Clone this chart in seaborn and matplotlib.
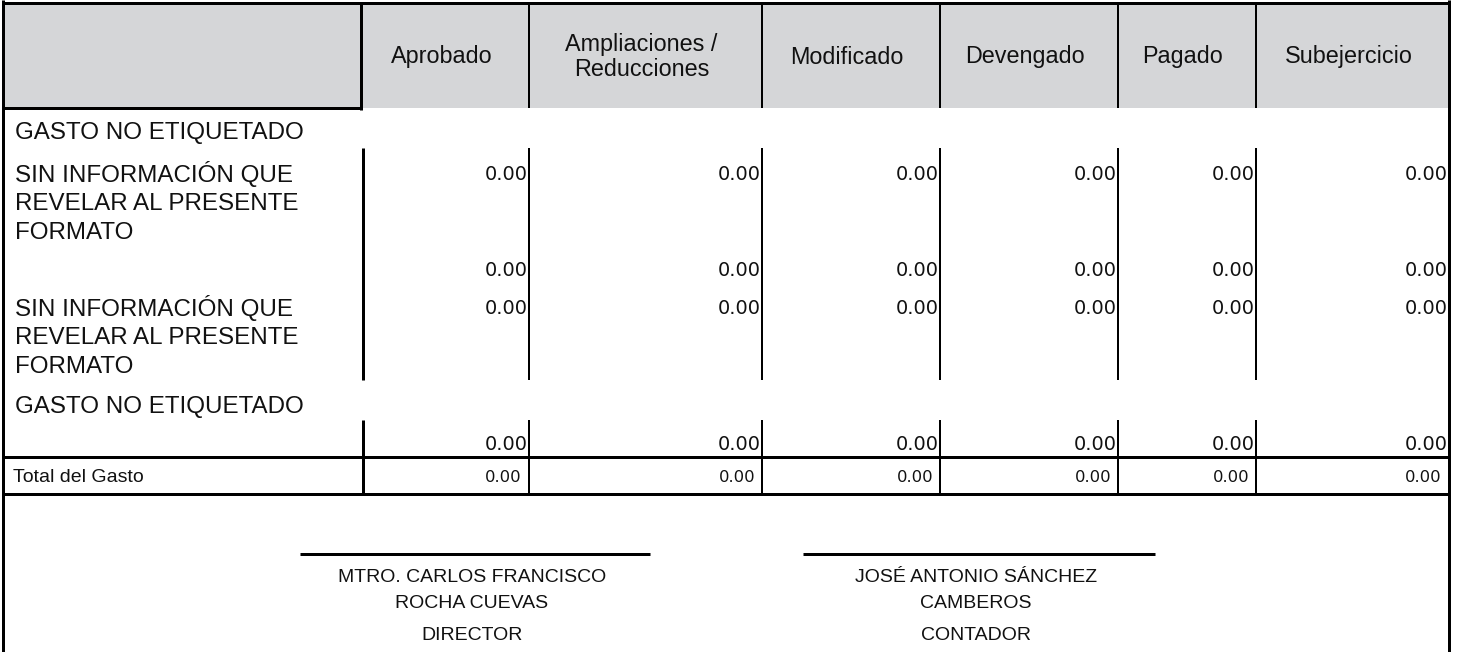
import matplotlib
matplotlib.use("Agg")
import matplotlib.pyplot as plt
import seaborn as sns

# ---------------- data ----------------
columns = ["Aprobado", "Ampliaciones /\nReducciones", "Modificado",
           "Devengado", "Pagado", "Subejercicio"]
heading_1 = "GASTO NO ETIQUETADO"
concept_1 = "SIN INFORMACIÓN QUE\nREVELAR AL PRESENTE\nFORMATO"
values_1 = [0.00, 0.00, 0.00, 0.00, 0.00, 0.00]
subtotal_1 = [0.00, 0.00, 0.00, 0.00, 0.00, 0.00]
concept_2 = "SIN INFORMACIÓN QUE\nREVELAR AL PRESENTE\nFORMATO"
values_2 = [0.00, 0.00, 0.00, 0.00, 0.00, 0.00]
heading_2 = "GASTO NO ETIQUETADO"
subtotal_2 = [0.00, 0.00, 0.00, 0.00, 0.00, 0.00]
total_label = "Total del Gasto"
total_values = [0.00, 0.00, 0.00, 0.00, 0.00, 0.00]
signers = ["MTRO. CARLOS FRANCISCO\nROCHA CUEVAS", "JOSÉ ANTONIO SÁNCHEZ\nCAMBEROS"]
roles = ["DIRECTOR", "CONTADOR"]

# ---------------- layout ----------------
sns.set_theme(style="white")
plt.rcParams["font.family"] = ["Liberation Sans", "DejaVu Sans"]

W, H = 1461, 652
fig = plt.figure(figsize=(W / 100, H / 100), dpi=100)
ax = fig.add_axes([0, 0, 1, 1])
ax.set_xlim(0, W)
ax.set_ylim(H, 0)
ax.axis("off")

PX = 0.72  # points per pixel at 100 dpi
edges = [3, 363, 529, 762, 940, 1118, 1256, 1449]
GRAY = "#d5d6d8"
BLK = "#000000"
INK = "#111111"

def hline(y, x0, x1, w=2):
    ax.plot([x0, x1], [y, y], color=BLK, lw=w * PX, solid_capstyle="butt")

def vline(x, y0, y1, w=2):
    ax.plot([x, x], [y0, y1], color=BLK, lw=w * PX, solid_capstyle="butt")

def lines_text(x, y, s, step, **kw):
    for i, part in enumerate(s.split("\n")):
        ax.text(x, y + i * step, part, va="center", **kw)

# header background
ax.add_patch(plt.Rectangle((edges[0], 4), edges[-1] - edges[0], 104,
                           facecolor=GRAY, edgecolor="none"))
# outer borders
vline(edges[0], 0, H, 3)
vline(edges[-1], 0, H, 3)
hline(3, edges[0], edges[-1], 3)
# header cells
vline(edges[1] - 2, 3, 110, 3)
for x in edges[2:-1]:
    vline(x, 3, 108, 2)
hline(108, edges[0], edges[1] - 1, 3)
for i, col in enumerate(columns):
    cx = (edges[i + 1] + edges[i + 2]) / 2 - 4
    n = col.count("\n") + 1
    lines_text(cx, 57 - (n - 1) * 13, col, 26, ha="center", fontsize=16.8, color=INK)

# body
label_kw = dict(ha="left", fontsize=17.4, color=INK)
num_kw = dict(ha="right", fontsize=14, color=INK, family="DejaVu Sans")

lines_text(15, 133, heading_1, 29.5, **label_kw)
lines_text(15, 174, concept_1, 29.5, **label_kw)
lines_text(15, 308, concept_2, 29.5, **label_kw)
lines_text(15, 407, heading_2, 29.5, **label_kw)

blocks = [(148, 380), (420, 457)]
for y0, y1 in blocks:
    vline(edges[1], y0, y1, 3)
    for x in edges[2:-1]:
        vline(x, y0, y1, 2)

for row, y in [(values_1, 174), (subtotal_1, 270), (values_2, 308), (subtotal_2, 444)]:
    for j, v in enumerate(row):
        ax.text(edges[j + 2] - 1, y, f"{v:,.2f}", va="center", **num_kw)

# total row
hline(457, edges[0], edges[-1], 3)
hline(494, edges[0], edges[-1], 3)
vline(edges[1], 457, 494, 3)
for x in edges[2:-1]:
    vline(x, 457, 494, 2)
ax.text(13, 477, total_label, va="center", ha="left", fontsize=14, color=INK)
for j, v in enumerate(total_values):
    ax.text(edges[j + 2] - 7, 477, f"{v:,.2f}", va="center", ha="right",
            fontsize=11.8, color=INK, family="DejaVu Sans")

# signatures
sig_lines = [(300, 650), (803, 1155)]
for (x0, x1), name, role in zip(sig_lines, signers, roles):
    hline(554, x0, x1, 3)
    cx = (x0 + x1) / 2 - 3
    lines_text(cx, 578, name, 25, ha="center", fontsize=14, color=INK)
    ax.text(cx, 635, role, ha="center", va="center", fontsize=14, color=INK)

fig.savefig("out.png", dpi=100)
